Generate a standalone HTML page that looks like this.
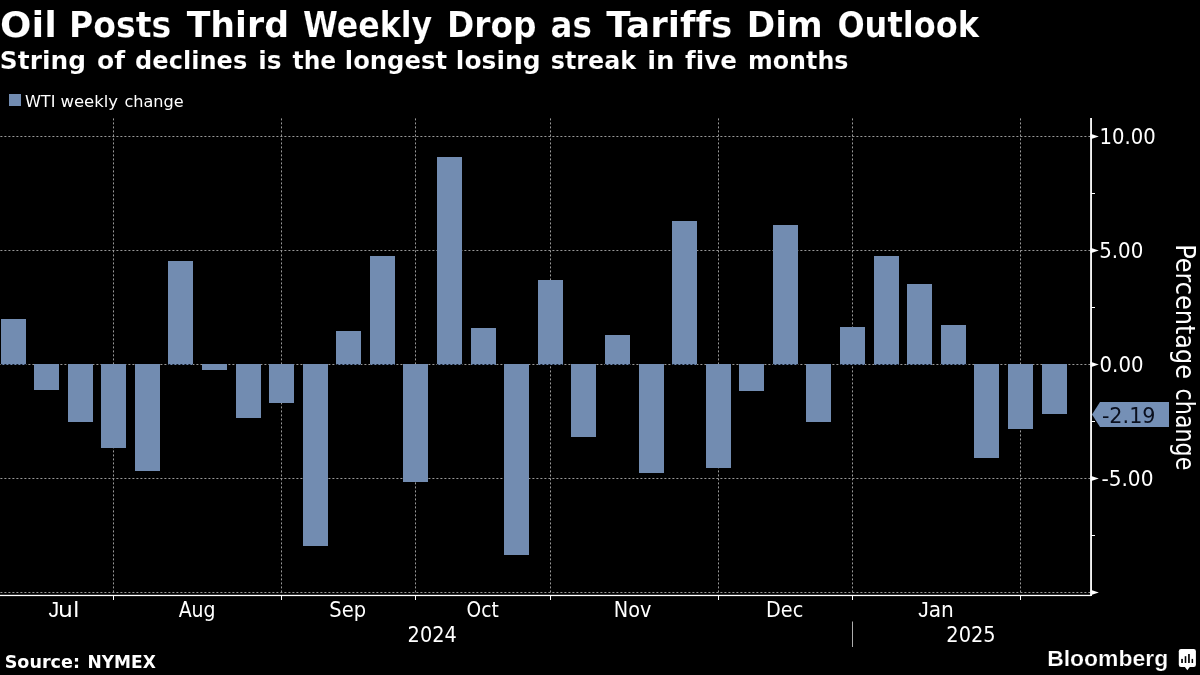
<!DOCTYPE html>
<html><head><meta charset="utf-8"><title>Oil Posts Third Weekly Drop as Tariffs Dim Outlook</title>
<style>
html,body{margin:0;padding:0;background:#000;}
body{width:1200px;height:675px;overflow:hidden;position:relative;}
svg{position:absolute;left:0;top:0;display:block;}
text{fill:#fff;font-variant-ligatures:none;}
.b{font-family:"DejaVu Sans","Liberation Sans",sans-serif;font-weight:bold;}
.r{font-family:"DejaVu Sans Condensed","DejaVu Sans","Liberation Sans",sans-serif;font-stretch:condensed;}
.n{font-family:"DejaVu Sans","Liberation Sans",sans-serif;}
.l{font-family:"Liberation Sans","DejaVu Sans",sans-serif;}
.logo{font-family:"Liberation Sans","DejaVu Sans",sans-serif;font-weight:bold;}
</style></head><body>
<svg width="1200" height="675" viewBox="0 0 1200 675">
<rect x="0" y="0" width="1200" height="675" fill="#000"/>

<g stroke="#999999" stroke-width="1" stroke-dasharray="2 2">
<line x1="0.4" y1="136.5" x2="1090" y2="136.5"/>
<line x1="0.4" y1="250.5" x2="1090" y2="250.5"/>
<line x1="0.4" y1="364.5" x2="1090" y2="364.5"/>
<line x1="0.4" y1="478.5" x2="1090" y2="478.5"/>
<line x1="0.4" y1="592.5" x2="1090" y2="592.5"/>
<line x1="113.5" y1="118.4" x2="113.5" y2="593"/>
<line x1="281.5" y1="118.4" x2="281.5" y2="593"/>
<line x1="415.5" y1="118.4" x2="415.5" y2="593"/>
<line x1="550.5" y1="118.4" x2="550.5" y2="593"/>
<line x1="718.5" y1="118.4" x2="718.5" y2="593"/>
<line x1="852.5" y1="118.4" x2="852.5" y2="593"/>
<line x1="1020.5" y1="118.4" x2="1020.5" y2="593"/>
</g>
<g fill="#728cb1" shape-rendering="crispEdges">
<rect x="1" y="319.2" width="25" height="45.8"/>
<rect x="34" y="364.0" width="25" height="25.9"/>
<rect x="68" y="364.0" width="25" height="57.9"/>
<rect x="101" y="364.0" width="25" height="83.7"/>
<rect x="135" y="364.0" width="25" height="106.7"/>
<rect x="168" y="260.9" width="25" height="104.1"/>
<rect x="202" y="364.0" width="25" height="5.9"/>
<rect x="236" y="364.0" width="25" height="53.6"/>
<rect x="269" y="364.0" width="25" height="38.8"/>
<rect x="303" y="364.0" width="25" height="181.9"/>
<rect x="336" y="330.8" width="25" height="34.2"/>
<rect x="370" y="255.9" width="25" height="109.1"/>
<rect x="403" y="364.0" width="25" height="117.9"/>
<rect x="437" y="157.2" width="25" height="207.8"/>
<rect x="471" y="328.1" width="25" height="36.9"/>
<rect x="504" y="364.0" width="25" height="190.9"/>
<rect x="538" y="279.8" width="25" height="85.2"/>
<rect x="571" y="364.0" width="25" height="72.8"/>
<rect x="605" y="334.9" width="25" height="30.1"/>
<rect x="639" y="364.0" width="25" height="108.5"/>
<rect x="672" y="220.8" width="25" height="144.2"/>
<rect x="706" y="364.0" width="25" height="103.7"/>
<rect x="739" y="364.0" width="25" height="26.7"/>
<rect x="773" y="225.1" width="25" height="139.9"/>
<rect x="806" y="364.0" width="25" height="57.6"/>
<rect x="840" y="326.9" width="25" height="38.1"/>
<rect x="874" y="256.0" width="25" height="109.0"/>
<rect x="907" y="284.0" width="25" height="81.0"/>
<rect x="941" y="325.1" width="25" height="39.9"/>
<rect x="974" y="364.0" width="25" height="93.6"/>
<rect x="1008" y="364.0" width="25" height="64.5"/>
<rect x="1042" y="364.0" width="25" height="49.6"/>
</g>
<clipPath id="pos"><rect x="1" y="364" width="25" height="1"/><rect x="168" y="364" width="25" height="1"/><rect x="336" y="364" width="25" height="1"/><rect x="370" y="364" width="25" height="1"/><rect x="437" y="364" width="25" height="1"/><rect x="471" y="364" width="25" height="1"/><rect x="538" y="364" width="25" height="1"/><rect x="605" y="364" width="25" height="1"/><rect x="672" y="364" width="25" height="1"/><rect x="773" y="364" width="25" height="1"/><rect x="840" y="364" width="25" height="1"/><rect x="874" y="364" width="25" height="1"/><rect x="907" y="364" width="25" height="1"/><rect x="941" y="364" width="25" height="1"/></clipPath>
<line x1="0.4" y1="364.5" x2="1090" y2="364.5" stroke="#0c1424" stroke-width="1" stroke-dasharray="2 2" clip-path="url(#pos)"/>
<g fill="#fff" stroke="none">
<rect x="1090.15" y="118" width="1.8" height="478"/>
<rect x="0" y="594.8" width="1091" height="1.3"/>
<polygon points="1090.5,133.8 1098.8,136.5 1090.5,139.2"/>
<polygon points="1090.5,247.8 1098.8,250.5 1090.5,253.2"/>
<polygon points="1090.5,361.8 1098.8,364.5 1090.5,367.2"/>
<polygon points="1090.5,475.8 1098.8,478.5 1090.5,481.2"/>
<polygon points="1090.5,589.8 1098.8,592.5 1090.5,595.2"/>
<rect x="1091" y="193.0" width="4" height="1"/>
<rect x="1091" y="307.0" width="4" height="1"/>
<rect x="1091" y="421.0" width="4" height="1"/>
<rect x="1091" y="535.0" width="4" height="1"/>
<rect x="113.0" y="596" width="1" height="4"/>
<rect x="281.0" y="596" width="1" height="4"/>
<rect x="415.0" y="596" width="1" height="4"/>
<rect x="550.0" y="596" width="1" height="4"/>
<rect x="718.0" y="596" width="1" height="4"/>
<rect x="852.0" y="596" width="1" height="4"/>
<rect x="1020.0" y="596" width="1" height="4"/>
</g>
<rect x="852" y="621.5" width="1" height="25.5" fill="#adadad"/>
<polygon points="1092,414.4 1100,402 1169,402 1169,427 1100,427" fill="#7590b6"/>
<text y="37.2" stroke="#000" stroke-width="0.15"><tspan class="b" x="0.07" font-size="35.4" textLength="56.82" lengthAdjust="spacingAndGlyphs">Oil</tspan> <tspan class="b" x="69.06" font-size="35.4" textLength="102.11" lengthAdjust="spacingAndGlyphs">Posts</tspan> <tspan class="b" x="186.65" font-size="35.4" textLength="102.42" lengthAdjust="spacingAndGlyphs">Third</tspan> <tspan class="b" x="303.11" font-size="35.4" textLength="129.11" lengthAdjust="spacingAndGlyphs">Weekly</tspan> <tspan class="b" x="446.99" font-size="35.4" textLength="89.51" lengthAdjust="spacingAndGlyphs">Drop</tspan> <tspan class="b" x="550.62" font-size="35.4" textLength="41.35" lengthAdjust="spacingAndGlyphs">as</tspan> <tspan class="b" x="606.25" font-size="35.4" textLength="126.15" lengthAdjust="spacingAndGlyphs">Tariffs</tspan> <tspan class="b" x="746.76" font-size="35.4" textLength="75.85" lengthAdjust="spacingAndGlyphs">Dim</tspan> <tspan class="b" x="837.42" font-size="35.4" textLength="141.56" lengthAdjust="spacingAndGlyphs">Outlook</tspan></text>
<text y="68.5" stroke="#000" stroke-width="0.1"><tspan class="b" x="-0.17" font-size="24.6" textLength="86.10" lengthAdjust="spacingAndGlyphs">String</tspan> <tspan class="b" x="96.98" font-size="24.6" textLength="28.07" lengthAdjust="spacingAndGlyphs">of</tspan> <tspan class="b" x="135.12" font-size="24.6" textLength="112.13" lengthAdjust="spacingAndGlyphs">declines</tspan> <tspan class="b" x="258.18" font-size="24.6" textLength="23.30" lengthAdjust="spacingAndGlyphs">is</tspan> <tspan class="b" x="292.46" font-size="24.6" textLength="43.78" lengthAdjust="spacingAndGlyphs">the</tspan> <tspan class="b" x="344.83" font-size="24.6" textLength="102.20" lengthAdjust="spacingAndGlyphs">longest</tspan> <tspan class="b" x="455.87" font-size="24.6" textLength="84.68" lengthAdjust="spacingAndGlyphs">losing</tspan> <tspan class="b" x="550.79" font-size="24.6" textLength="85.39" lengthAdjust="spacingAndGlyphs">streak</tspan> <tspan class="b" x="647.19" font-size="24.6" textLength="27.36" lengthAdjust="spacingAndGlyphs">in</tspan> <tspan class="b" x="685.10" font-size="24.6" textLength="51.90" lengthAdjust="spacingAndGlyphs">five</tspan> <tspan class="b" x="747.97" font-size="24.6" textLength="100.50" lengthAdjust="spacingAndGlyphs">months</tspan></text>
<text y="106.8"><tspan class="n" x="24.92" font-size="16.6" textLength="30.48" lengthAdjust="spacingAndGlyphs">WTI</tspan> <tspan class="n" x="60.51" font-size="16.6" textLength="57.54" lengthAdjust="spacingAndGlyphs">weekly</tspan> <tspan class="n" x="124.43" font-size="16.6" textLength="59.28" lengthAdjust="spacingAndGlyphs">change</tspan></text>
<text y="144.1"><tspan class="r" x="1099.52" font-size="21" textLength="56.15" lengthAdjust="spacingAndGlyphs">10.00</tspan></text>
<text y="258.2"><tspan class="r" x="1099.23" font-size="21" textLength="44.14" lengthAdjust="spacingAndGlyphs">5.00</tspan></text>
<text y="372.1"><tspan class="r" x="1099.60" font-size="21" textLength="43.86" lengthAdjust="spacingAndGlyphs">0.00</tspan></text>
<text y="486.1"><tspan class="r" x="1101.43" font-size="21" textLength="52.06" lengthAdjust="spacingAndGlyphs">-5.00</tspan></text>
<text y="422.8" style="fill:#0a0f1e"><tspan class="r" x="1101.90" font-size="21" textLength="53.60" lengthAdjust="spacingAndGlyphs">-2.19</tspan></text>
<text y="616.5"><tspan class="l" x="48.45" font-size="21.2" textLength="10.66" lengthAdjust="spacingAndGlyphs">J</tspan><tspan class="r" x="58.04" font-size="21" textLength="21.41" lengthAdjust="spacingAndGlyphs">ul</tspan></text>
<text y="616.5"><tspan class="l" x="918.25" font-size="21.2" textLength="10.42" lengthAdjust="spacingAndGlyphs">J</tspan><tspan class="r" x="928.73" font-size="21" textLength="25.13" lengthAdjust="spacingAndGlyphs">an</tspan></text>
<text y="616.5"><tspan class="r" x="178.65" font-size="21" textLength="36.89" lengthAdjust="spacingAndGlyphs">Aug</tspan></text>
<text y="616.5"><tspan class="r" x="329.31" font-size="21" textLength="36.75" lengthAdjust="spacingAndGlyphs">Sep</tspan></text>
<text y="616.5"><tspan class="r" x="466.61" font-size="21" textLength="32.19" lengthAdjust="spacingAndGlyphs">Oct</tspan></text>
<text y="616.5"><tspan class="r" x="613.81" font-size="21" textLength="37.61" lengthAdjust="spacingAndGlyphs">Nov</tspan></text>
<text y="616.5"><tspan class="r" x="766.02" font-size="21" textLength="37.27" lengthAdjust="spacingAndGlyphs">Dec</tspan></text>
<text y="641.9"><tspan class="r" x="407.62" font-size="21" textLength="49.17" lengthAdjust="spacingAndGlyphs">2024</tspan></text>
<text y="641.9"><tspan class="r" x="946.32" font-size="21" textLength="49.29" lengthAdjust="spacingAndGlyphs">2025</tspan></text>
<text y="667.7"><tspan class="b" x="4.72" font-size="17.2" textLength="75.24" lengthAdjust="spacingAndGlyphs">Source:</tspan> <tspan class="b" x="87.51" font-size="17.2" textLength="68.36" lengthAdjust="spacingAndGlyphs">NYMEX</tspan></text>
<text y="666.2" stroke="#000" stroke-width="0.22"><tspan class="logo" x="1047.16" font-size="22.4" textLength="121.04" lengthAdjust="spacingAndGlyphs">Bloomberg</tspan></text>
<text transform="translate(1175.8,0) rotate(90)"><tspan class="r" x="244.19" font-size="26" textLength="134.84" lengthAdjust="spacingAndGlyphs">Percentage</tspan> <tspan class="r" x="388.61" font-size="26" textLength="81.77" lengthAdjust="spacingAndGlyphs">change</tspan></text>
<rect x="9" y="94" width="12" height="12" fill="#728cb1"/>
<g><rect x="1178.8" y="649.1" width="17.1" height="17.8" rx="2.2" fill="#fff"/><polygon points="1184.5,666.5 1190.1,666.5 1187.3,670.2" fill="#fff"/>
<g fill="#000"><rect x="1181.2" y="658.9" width="1.7" height="4.1"/><rect x="1184.7" y="656.2" width="1.6" height="6.8"/><rect x="1188.1" y="654" width="1.7" height="9"/><rect x="1191.6" y="658.9" width="1.5" height="4.1"/></g></g>
</svg></body></html>
